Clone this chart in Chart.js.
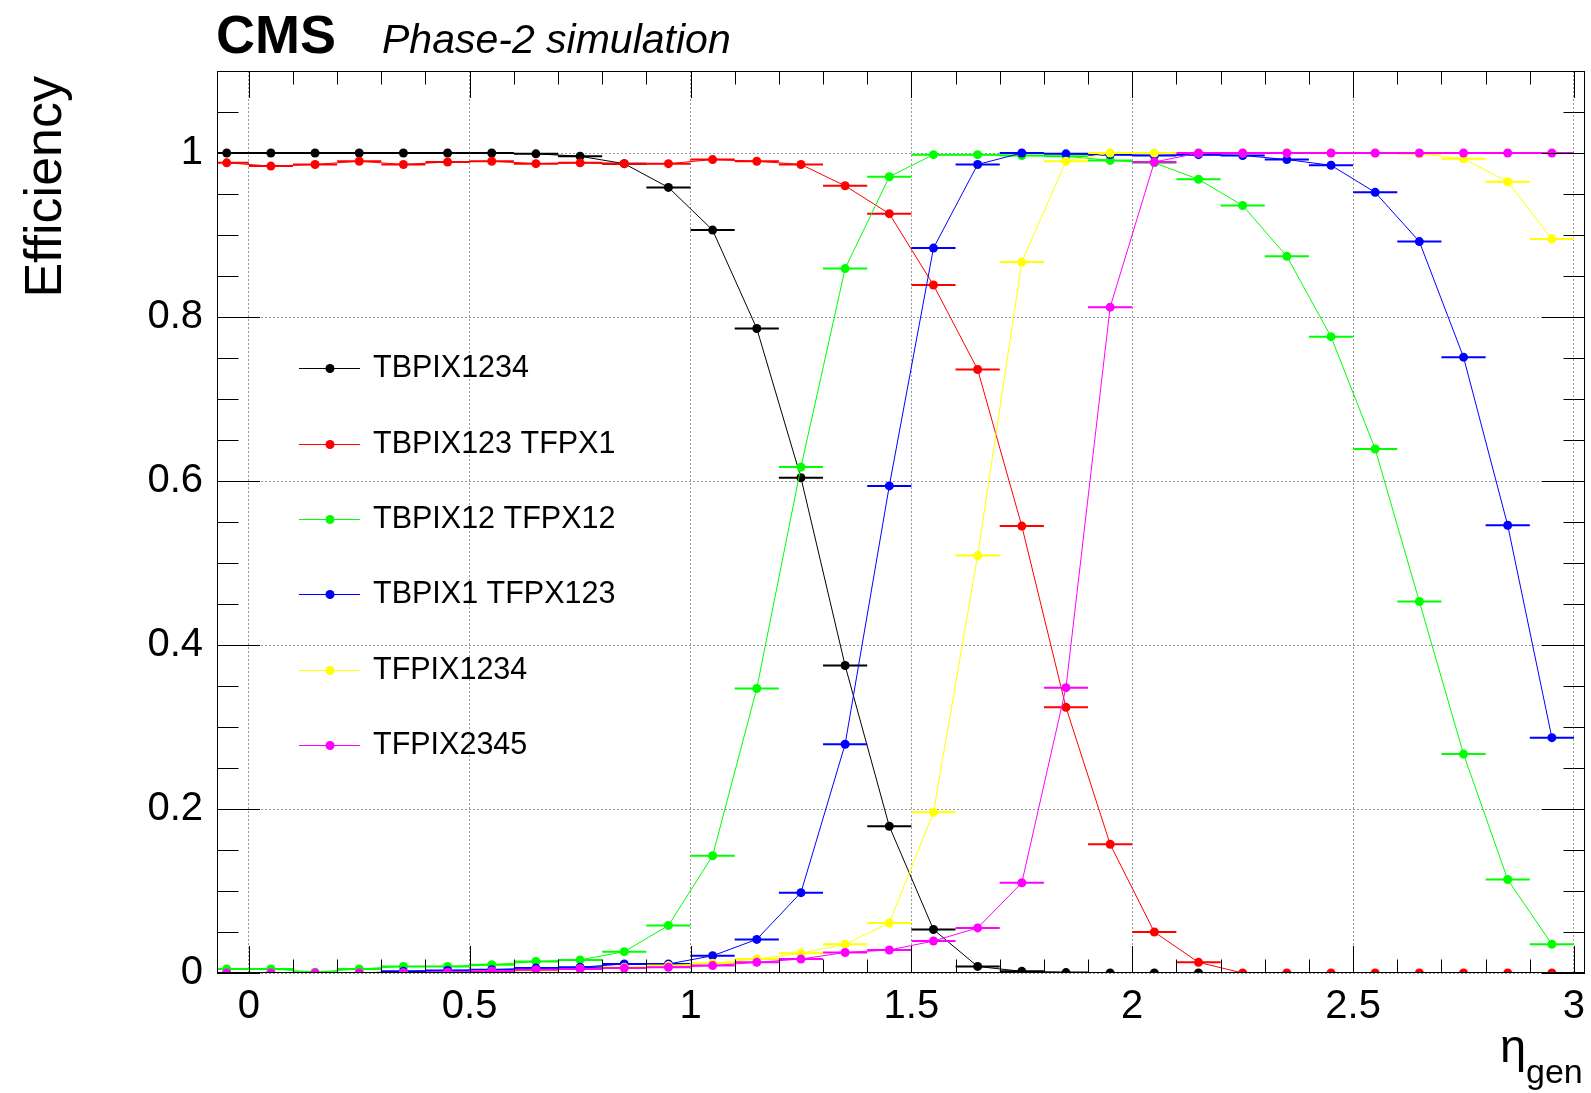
<!DOCTYPE html>
<html><head><meta charset="utf-8">
<script src="https://cdn.jsdelivr.net/npm/chart.js@4.4.1/dist/chart.umd.min.js"></script>
<style>html,body{margin:0;padding:0;background:#fff}canvas{display:block}</style>
</head><body>
<canvas id="c" width="1591" height="1093"></canvas>
<script>
// ---- data ----
const eta = [-0.05,0.05,0.15,0.25,0.35,0.45,0.55,0.65,0.75,0.85,0.95,1.05,1.15,1.25,1.35,1.45,1.55,1.65,1.75,1.85,1.95,2.05,2.15,2.25,2.35,2.45,2.55,2.65,2.75,2.85,2.95];
const seriesNames = ["TBPIX1234","TBPIX123 TFPX1","TBPIX12 TFPX12","TBPIX1 TFPX123","TFPIX1234","TFPIX2345"];
const seriesColors = ["#000000","#ff0000","#00ff00","#0000ff","#ffff00","#ff00ff"];
const effTBPIX1234 = [1.0,1.0,1.0,1.0,1.0,1.0,1.0,0.999,0.996,0.987,0.958,0.906,0.786,0.604,0.375,0.179,0.053,0.008,0.002,0.0005,0,0,0,null,null,null,null,null,null,null,null];
const effTBPIX123_TFPX1 = [0.988,0.984,0.986,0.990,0.986,0.989,0.990,0.987,0.988,0.987,0.987,0.992,0.990,0.986,0.960,0.926,0.839,0.736,0.545,0.324,0.157,0.050,0.013,0,0,0,0,0,0,0,0];
const effTBPIX12_TFPX12 = [0.005,0.005,0.001,0.005,0.008,0.008,0.010,0.014,0.016,0.026,0.058,0.143,0.347,0.617,0.859,0.971,0.998,0.998,0.997,0.996,0.991,0.988,0.968,0.936,0.874,0.776,0.639,0.453,0.267,0.114,0.035];
const effTBPIX1_TFPX123 = [0,0,0,0,0.002,0.003,0.004,0.006,0.007,0.011,0.011,0.021,0.041,0.098,0.279,0.594,0.884,0.986,1.0,0.999,0.998,0.997,0.998,0.997,0.992,0.985,0.952,0.892,0.751,0.546,0.287];
const effTFPIX1234 = [0,0,0,0,0,0,0.002,0.003,0.005,0.007,0.009,0.012,0.017,0.024,0.035,0.061,0.196,0.509,0.867,0.990,1.0,1.0,1.0,1.0,1.0,1.0,1.0,0.999,0.993,0.965,0.895];
const effTFPIX2345 = [0,0,0,0,0,0.001,0.002,0.004,0.005,0.006,0.007,0.009,0.013,0.017,0.025,0.028,0.039,0.055,0.110,0.348,0.812,0.989,1.0,1.0,1.0,1.0,1.0,1.0,1.0,1.0,1.0];
const binHalfWidth = 0.05;
const xTickValues = [0,0.5,1,1.5,2,2.5,3];
const yTickValues = [0,0.2,0.4,0.6,0.8,1];
const xRange = [-0.072, 3.025];
const yRange = [0, 1.1];
const allSeries = [effTBPIX1234,effTBPIX123_TFPX1,effTBPIX12_TFPX12,effTBPIX1_TFPX123,effTFPIX1234,effTFPIX2345];

const FONT = '"Liberation Sans", Arial, Helvetica, sans-serif';

const datasets = allSeries.map((vals, k) => ({
  label: seriesNames[k],
  data: eta.map((x, i) => ({x: x, y: vals[i]})).filter(p => p.y !== null),
  borderColor: seriesColors[k],
  backgroundColor: seriesColors[k],
  pointBackgroundColor: seriesColors[k],
  pointBorderWidth: 0,
  pointRadius: 4.5,
  borderWidth: 1,
  tension: 0,
  order: allSeries.length - k
}));

const errorBars = {
  id: 'errorBars',
  beforeDatasetDraw(chart, args) {
    const ds = chart.data.datasets[args.index];
    const {ctx, chartArea: a, scales: {x, y}} = chart;
    ctx.save();
    ctx.beginPath(); ctx.rect(a.left, a.top, a.width, a.height); ctx.clip();
    ctx.strokeStyle = ds.borderColor; ctx.lineWidth = 2;
    ctx.beginPath();
    ds.data.forEach(p => {
      const py = y.getPixelForValue(p.y);
      ctx.moveTo(x.getPixelForValue(p.x - binHalfWidth), py);
      ctx.lineTo(x.getPixelForValue(p.x + binHalfWidth), py);
    });
    ctx.stroke();
    ctx.restore();
  }
};

const frameTicks = {
  id: 'frameTicks',
  afterDraw(chart) {
    const {ctx, chartArea: a, scales: {x, y}} = chart;
    ctx.save();
    ctx.strokeStyle = '#000'; ctx.lineWidth = 1;
    ctx.beginPath();
    for (let i = 0; i <= 30; i++) {
      const px = Math.round(x.getPixelForValue(i / 10)) + 0.5;
      const L = (i % 5 === 0) ? 27 : 13.5;
      ctx.moveTo(px, a.bottom); ctx.lineTo(px, a.bottom - L);
      ctx.moveTo(px, a.top); ctx.lineTo(px, a.top + L);
    }
    for (let i = 0; i <= 22; i++) {
      const py = Math.round(y.getPixelForValue(i * 0.05)) + 0.5;
      const L = (i % 4 === 0) ? 43 : 21.5;
      ctx.moveTo(a.left, py); ctx.lineTo(a.left + L, py);
      ctx.moveTo(a.right, py); ctx.lineTo(a.right - L, py);
    }
    ctx.stroke();
    ctx.strokeRect(Math.round(a.left) + 0.5, Math.round(a.top) + 0.5, Math.round(a.width) - 1, Math.round(a.height) - 1);
    ctx.restore();
  }
};

const texts = {
  id: 'texts',
  afterDraw(chart) {
    const {ctx} = chart;
    ctx.save();
    ctx.fillStyle = '#000';
    ctx.textBaseline = 'alphabetic';
    ctx.textAlign = 'left';
    ctx.font = 'bold 54px ' + FONT;
    ctx.fillText('CMS', 216, 53);
    ctx.font = 'italic 41px ' + FONT;
    ctx.fillText('Phase-2 simulation', 382, 53);
    // y title
    ctx.save();
    ctx.translate(61, 76);
    ctx.rotate(-Math.PI / 2);
    ctx.textAlign = 'right';
    ctx.font = '52px ' + FONT;
    ctx.fillText('Efficiency', 0, 0);
    ctx.restore();
    // x title
    ctx.font = '47px ' + FONT;
    ctx.fillText('\u03b7', 1500, 1062);
    ctx.font = '34px ' + FONT;
    ctx.fillText('gen', 1526, 1083);
    // legend
    const rows = [368, 443.5, 518.5, 594, 669.5, 745];
    ctx.textBaseline = 'middle';
    ctx.font = '30.5px ' + FONT;
    seriesNames.forEach((name, k) => {
      const yy = rows[k];
      ctx.strokeStyle = seriesColors[k]; ctx.lineWidth = 1;
      ctx.beginPath(); ctx.moveTo(299, Math.round(yy) + 0.5); ctx.lineTo(360, Math.round(yy) + 0.5); ctx.stroke();
      ctx.fillStyle = seriesColors[k];
      ctx.beginPath(); ctx.arc(330, Math.round(yy) + 0.5, 4.5, 0, Math.PI * 2); ctx.fill();
      ctx.fillStyle = '#000';
      ctx.fillText(name, 373, yy + 1);
    });
    ctx.restore();
  }
};

new Chart(document.getElementById('c'), {
  type: 'line',
  data: {datasets},
  options: {
    responsive: false,
    devicePixelRatio: 1,
    animation: false,
    layout: {padding: {left: 0, top: 71, right: 6, bottom: 0}},
    plugins: {legend: {display: false}, tooltip: {enabled: false}},
    elements: {line: {tension: 0}},
    scales: {
      x: {
        type: 'linear', min: xRange[0], max: xRange[1],
        afterFit: s => { s.height = 120; s.paddingLeft = 0; s.paddingRight = 0; },
        afterBuildTicks: s => { s.ticks = xTickValues.map(v => ({value: v})); },
        ticks: {color: '#000', font: {family: FONT, size: 40}, padding: 10, maxRotation: 0, autoSkip: false, callback: v => String(v)},
        grid: {color: '#9a9a9a', lineWidth: 1, drawTicks: false},
        border: {display: false, dash: [2, 2]}
      },
      y: {
        type: 'linear', min: yRange[0], max: yRange[1],
        afterFit: s => { s.width = 217; s.paddingTop = 0; s.paddingBottom = 0; },
        afterBuildTicks: s => { s.ticks = yTickValues.map(v => ({value: v})); },
        ticks: {color: '#000', font: {family: FONT, size: 40}, padding: 14, autoSkip: false, callback: v => String(v)},
        grid: {color: '#9a9a9a', lineWidth: 1, drawTicks: false},
        border: {display: false, dash: [2, 2]}
      }
    }
  },
  plugins: [errorBars, frameTicks, texts]
});
</script>
</body></html>
